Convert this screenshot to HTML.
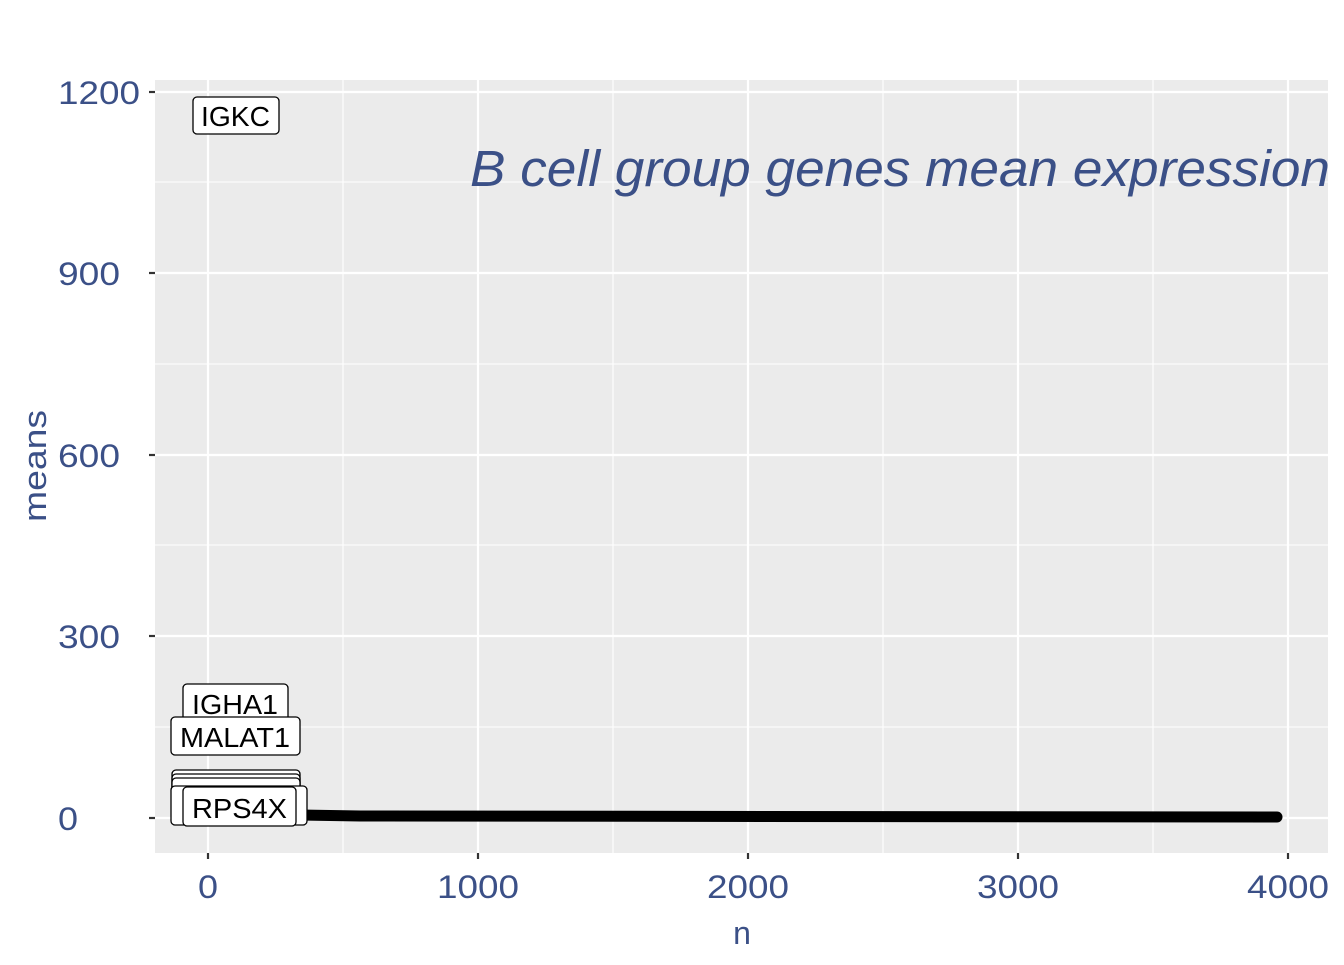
<!DOCTYPE html>
<html><head><style>body{margin:0;background:#fff}</style></head><body>
<svg width="1344" height="960" xmlns="http://www.w3.org/2000/svg" font-family="Liberation Sans, sans-serif">
<rect width="1344" height="960" fill="#fff"/>
<rect x="155" y="80" width="1173" height="773" fill="#ebebeb"/>
<g stroke="#fff" stroke-width="1.1">
<line x1="343" y1="80" x2="343" y2="853"/><line x1="613" y1="80" x2="613" y2="853"/><line x1="883" y1="80" x2="883" y2="853"/><line x1="1153" y1="80" x2="1153" y2="853"/>
<line x1="155" y1="727" x2="1328" y2="727"/><line x1="155" y1="545" x2="1328" y2="545"/><line x1="155" y1="364" x2="1328" y2="364"/><line x1="155" y1="182" x2="1328" y2="182"/>
</g>
<g stroke="#fff" stroke-width="2.2">
<line x1="208" y1="80" x2="208" y2="853"/><line x1="478" y1="80" x2="478" y2="853"/><line x1="748" y1="80" x2="748" y2="853"/><line x1="1018" y1="80" x2="1018" y2="853"/><line x1="1288" y1="80" x2="1288" y2="853"/>
<line x1="155" y1="818" x2="1328" y2="818"/><line x1="155" y1="636" x2="1328" y2="636"/><line x1="155" y1="455" x2="1328" y2="455"/><line x1="155" y1="273" x2="1328" y2="273"/><line x1="155" y1="92" x2="1328" y2="92"/>
</g>
<g stroke="#333" stroke-width="2.2">
<line x1="149" y1="818" x2="155" y2="818"/><line x1="149" y1="636" x2="155" y2="636"/><line x1="149" y1="455" x2="155" y2="455"/><line x1="149" y1="273" x2="155" y2="273"/><line x1="149" y1="92" x2="155" y2="92"/>
<line x1="208" y1="853" x2="208" y2="859"/><line x1="478" y1="853" x2="478" y2="859"/><line x1="748" y1="853" x2="748" y2="859"/><line x1="1018" y1="853" x2="1018" y2="859"/><line x1="1288" y1="853" x2="1288" y2="859"/>
</g>
<g fill="#3b5087" font-size="32">
<text x="58" y="830" textLength="20" lengthAdjust="spacingAndGlyphs">0</text>
<text x="58" y="648" textLength="62" lengthAdjust="spacingAndGlyphs">300</text>
<text x="58" y="467" textLength="62" lengthAdjust="spacingAndGlyphs">600</text>
<text x="58" y="285" textLength="62" lengthAdjust="spacingAndGlyphs">900</text>
<text x="58" y="104" textLength="82" lengthAdjust="spacingAndGlyphs">1200</text>
<text x="198" y="898" textLength="20" lengthAdjust="spacingAndGlyphs">0</text>
<text x="437" y="898" textLength="82" lengthAdjust="spacingAndGlyphs">1000</text>
<text x="707" y="898" textLength="82" lengthAdjust="spacingAndGlyphs">2000</text>
<text x="977" y="898" textLength="82" lengthAdjust="spacingAndGlyphs">3000</text>
<text x="1247" y="898" textLength="82" lengthAdjust="spacingAndGlyphs">4000</text>
<text x="742" y="944" text-anchor="middle">n</text>
<text transform="translate(46,522) rotate(-90)" textLength="112" lengthAdjust="spacingAndGlyphs">means</text>
<text x="470" y="186" font-size="51" font-style="italic" textLength="860" lengthAdjust="spacingAndGlyphs">B cell group genes mean expression</text>
</g>
<path d="M210 812 L300 815 L360 816 L1277 817" stroke="#000" stroke-width="11" stroke-linecap="round" fill="none"/>
<g stroke="#000" stroke-width="1.3" fill="#fff">
<rect x="193" y="97" width="86" height="37" rx="4"/>
<rect x="183" y="684" width="105" height="37" rx="4"/>
<rect x="171" y="717" width="129" height="38" rx="4"/>
<rect x="172" y="770" width="128" height="30" rx="4"/>
<rect x="172" y="774" width="128" height="30" rx="4"/>
<rect x="172" y="778" width="128" height="30" rx="4"/>
<rect x="171" y="786" width="136" height="39" rx="4"/>
<rect x="183" y="787" width="113" height="39" rx="4"/>
</g>
<g font-size="28" fill="#000">
<text x="201" y="126" textLength="69" lengthAdjust="spacingAndGlyphs">IGKC</text>
<text x="192" y="714" textLength="86" lengthAdjust="spacingAndGlyphs">IGHA1</text>
<text x="180" y="747" textLength="110" lengthAdjust="spacingAndGlyphs">MALAT1</text>
<text x="192" y="818" textLength="95" lengthAdjust="spacingAndGlyphs">RPS4X</text>
</g>
</svg>
</body></html>
